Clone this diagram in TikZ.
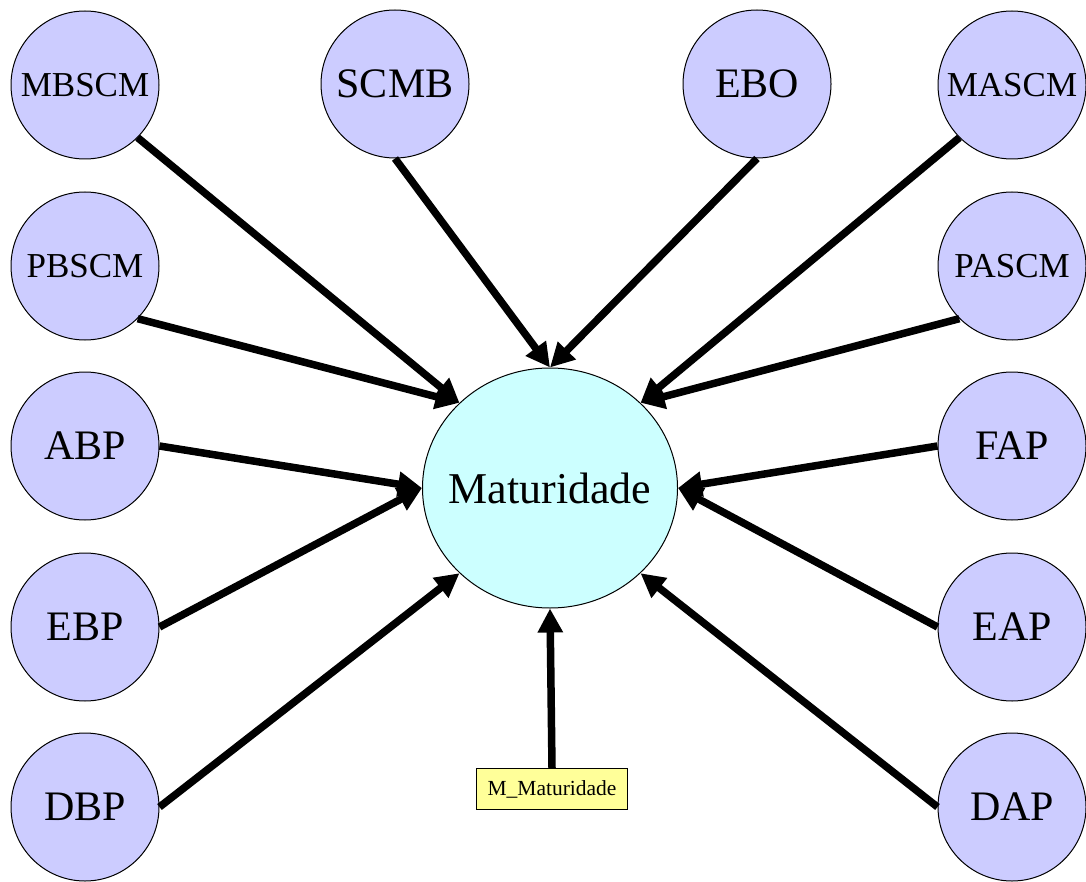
\documentclass[tikz,border=0pt]{standalone}
\usepackage{fontspec}
\setmainfont{Liberation Serif}
\usetikzlibrary{shapes.geometric,arrows.meta}
\definecolor{varfill}{RGB}{204,204,255}
\definecolor{goalfill}{RGB}{204,255,255}
\definecolor{parfill}{RGB}{255,255,153}
\begin{document}
\begin{tikzpicture}[x=1pt,y=-1pt,
  var/.style={circle,draw=black,line width=1pt,fill=varfill,minimum size=148pt,
    inner sep=0pt,font=\fontsize{42}{46}\selectfont},
  smalltext/.style={font=\fontsize{35}{40}\selectfont},
  goal/.style={ellipse,draw=black,line width=1pt,fill=goalfill,minimum width=255pt,
    minimum height=240pt,inner sep=0pt,font=\fontsize{44}{48}\selectfont},
  par/.style={rectangle,draw=black,line width=1pt,fill=parfill,minimum width=151pt,
    minimum height=41pt,inner sep=0pt,font=\fontsize{21.5}{24}\selectfont},
  link/.style={line width=7.5pt,-{Triangle[length=24pt,width=24pt]}}]
\useasboundingbox (0,0) rectangle (1086,882);

% outcome node and its parameter box
\node[goal] (M) at (550,488) {\makebox[0pt]{Maturidade}};
\node[par] (MM) at (552,789) {M\_Maturidade};

% left column
\node[var,smalltext] (MBSCM) at (85,85) {MBSCM};
\node[var,smalltext] (PBSCM) at (85,266) {PBSCM};
\node[var] (ABP) at (85,446) {ABP};
\node[var] (EBP) at (85,627) {EBP};
\node[var] (DBP) at (85,807) {DBP};

% top middle
\node[var] (SCMB) at (395,84) {SCMB};
\node[var] (EBO) at (757,84) {EBO};

% right column
\node[var,smalltext] (MASCM) at (1012,85) {MASCM};
\node[var,smalltext] (PASCM) at (1012,266) {PASCM};
\node[var] (FAP) at (1012,446) {FAP};
\node[var] (EAP) at (1012,627) {EAP};
\node[var] (DAP) at (1012,807) {DAP};

% influences
\draw[link] (MBSCM.south east) -- (M.north west);
\draw[link] (PBSCM.south east) -- (M.north west);
\draw[link] (ABP.east) -- (M.west);
\draw[link] (EBP.east) -- (M.west);
\draw[link] (DBP.east) -- (M.south west);
\draw[link] (SCMB.south) -- (M.north);
\draw[link] (EBO.south) -- (M.north);
\draw[link] (MASCM.south west) -- (M.north east);
\draw[link] (PASCM.south west) -- (M.north east);
\draw[link] (FAP.west) -- (M.east);
\draw[link] (EAP.west) -- (M.east);
\draw[link] (DAP.west) -- (M.south east);
\draw[link] (MM.north) -- (M.south);
\end{tikzpicture}
\end{document}
